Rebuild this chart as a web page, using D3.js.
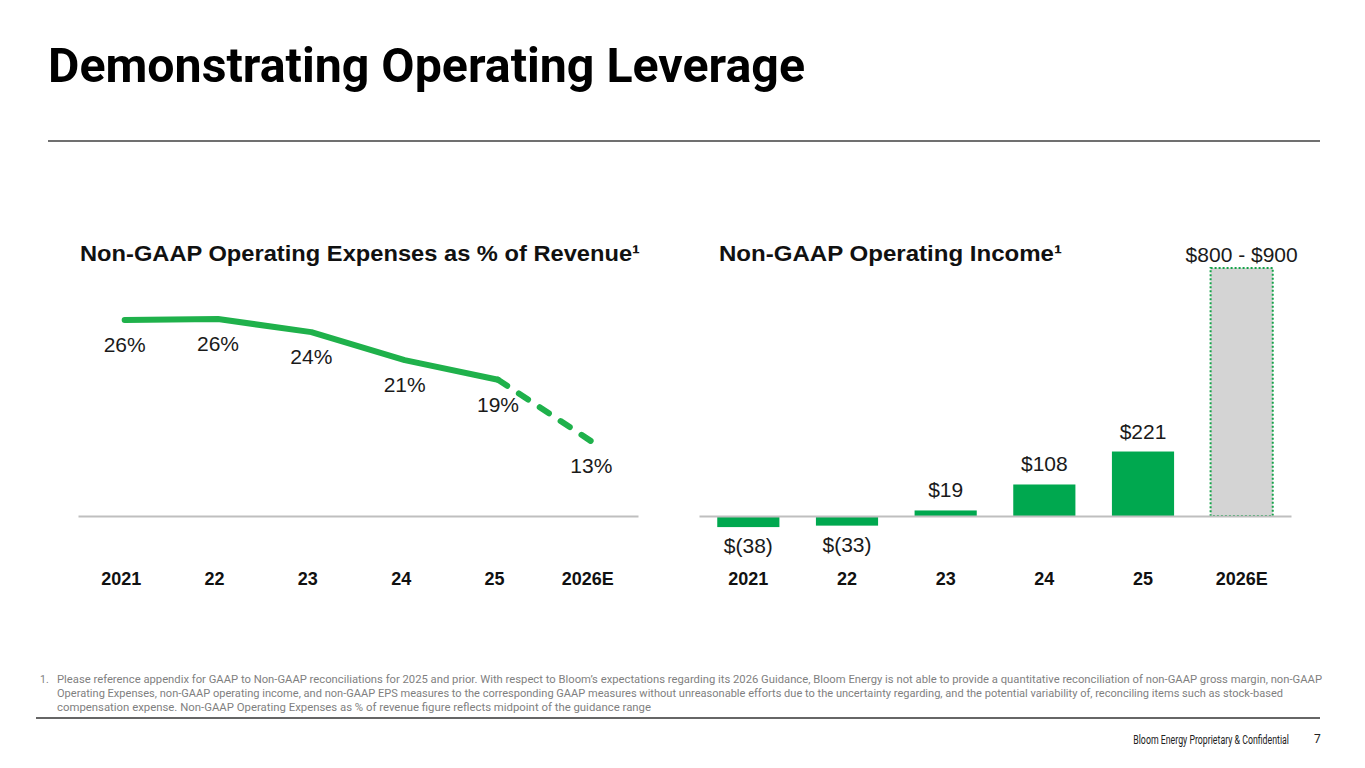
<!DOCTYPE html>
<html>
<head>
<meta charset="utf-8">
<script src="https://cdn.jsdelivr.net/npm/d3@7"></script>
<style>
  body { margin: 0; background: #fff; }
  svg { display: block; }
</style>
</head>
<body>
<div id="slide"></div>
<script>
// chart data
var years = ["2021", "22", "23", "24", "25", "2026E"];
var opexPct = [26.0, 26.1, 24.7, 21.7, 19.6, 13.0];
var opexLabels = ["26%", "26%", "24%", "21%", "19%", "13%"];
var opIncome = [-38, -33, 19, 108, 221, 850];
var opIncomeLabels = ["$(38)", "$(33)", "$19", "$108", "$221", "$800 - $900"];

var footnoteLines = [
    "Please reference appendix for GAAP to Non-GAAP reconciliations for 2025 and prior. With respect to Bloom\u2019s expectations regarding its 2026 Guidance, Bloom Energy is not able to provide a quantitative reconciliation of non-GAAP gross margin, non-GAAP",
    "Operating Expenses, non-GAAP operating income, and non-GAAP EPS measures to the corresponding GAAP measures without unreasonable efforts due to the uncertainty regarding, and the potential variability of, reconciling items such as stock-based",
    "compensation expense. Non-GAAP Operating Expenses as % of revenue figure reflects  midpoint of the guidance range"
];

var W = 1365, H = 768;
var green = "#1fb14b", barGreen = "#00a84f", axisGrey = "#bfbfbf";
var labelFont = "'Liberation Sans', Arial, sans-serif";
var slideFont = "Roboto, 'Liberation Sans', sans-serif";

var svg = d3.select("#slide")
    .append("svg")
    .attr("width", W)
    .attr("height", H);

// slide title + rules
svg.append("text")
    .attr("x", 48)
    .attr("y", 82)
    .attr("font-family", slideFont)
    .attr("font-weight", 700)
    .attr("font-size", 49)
    .attr("textLength", 757)
    .attr("lengthAdjust", "spacingAndGlyphs")
    .attr("fill", "#000")
    .text("Demonstrating Operating Leverage");

svg.append("line")
    .attr("x1", 48).attr("x2", 1320)
    .attr("y1", 141).attr("y2", 141)
    .attr("stroke", "#404040")
    .attr("stroke-width", 1.3);

// ---------- left: opex as % of revenue ----------
var left = svg.append("g");

left.append("text")
    .attr("x", 80)
    .attr("y", 261)
    .attr("font-family", labelFont)
    .attr("font-weight", 700)
    .attr("font-size", 22.5)
    .attr("textLength", 560)
    .attr("lengthAdjust", "spacingAndGlyphs")
    .attr("fill", "#111")
    .text("Non-GAAP Operating Expenses as % of Revenue\u00b9");

var xLine = d3.scalePoint()
    .domain(years)
    .range([78, 638])
    .padding(0.5);

var yLine = d3.scaleLinear()
    .domain([5, 26])
    .range([516, 320]);

var xAxisLeft = d3.axisBottom(xLine)
    .tickSize(0)
    .tickSizeOuter(0)
    .tickPadding(56);

var gxl = left.append("g")
    .attr("transform", "translate(0," + yLine(5) + ")")
    .call(xAxisLeft);
gxl.select(".domain")
    .attr("stroke", axisGrey)
    .attr("stroke-width", 2);
gxl.selectAll("text")
    .attr("transform", "translate(-4,0)")
    .attr("font-family", labelFont)
    .attr("font-weight", 700)
    .attr("font-size", 18)
    .attr("fill", "#111");

var linePts = years.map(function (d, i) {
    return [xLine(d), yLine(opexPct[i])];
});
var lineGen = d3.line();

// actuals solid, guidance dashed
left.append("path")
    .attr("d", lineGen(linePts.slice(0, 5)))
    .attr("fill", "none")
    .attr("stroke", green)
    .attr("stroke-width", 6)
    .attr("stroke-linejoin", "round")
    .attr("stroke-linecap", "round");

left.append("path")
    .attr("d", lineGen(linePts.slice(4)))
    .attr("fill", "none")
    .attr("stroke", green)
    .attr("stroke-width", 6)
    .attr("stroke-linecap", "round")
    .attr("stroke-dasharray", "11,14");

left.selectAll(".pctlabel")
    .data(opexLabels)
    .enter()
    .append("text")
    .attr("class", "pctlabel")
    .attr("x", function (d, i) { return xLine(years[i]); })
    .attr("y", function (d, i) { return yLine(opexPct[i]) + 32; })
    .attr("text-anchor", "middle")
    .attr("font-family", labelFont)
    .attr("font-size", 21)
    .attr("fill", "#1a1a1a")
    .text(function (d) { return d; });

// ---------- right: operating income bars ----------
var right = svg.append("g");

right.append("text")
    .attr("x", 719)
    .attr("y", 261)
    .attr("font-family", labelFont)
    .attr("font-weight", 700)
    .attr("font-size", 22.5)
    .attr("textLength", 343)
    .attr("lengthAdjust", "spacingAndGlyphs")
    .attr("fill", "#111")
    .text("Non-GAAP Operating Income\u00b9");

var xBar = d3.scaleBand()
    .domain(years)
    .range([699, 1291])
    .paddingInner(0.37)
    .paddingOuter(0.185);

var yBar = d3.scaleLinear()
    .domain([0, 850])
    .range([516, 268]);

var last = years.length - 1;

right.selectAll(".bar")
    .data(opIncome)
    .enter()
    .append("rect")
    .attr("class", "bar")
    .attr("x", function (d, i) { return xBar(years[i]); })
    .attr("y", function (d) { return d >= 0 ? yBar(d) : yBar(0); })
    .attr("width", xBar.bandwidth())
    .attr("height", function (d) { return Math.abs(yBar(d) - yBar(0)); })
    .attr("fill", function (d, i) { return i === last ? "#d4d4d4" : barGreen; })
    .attr("stroke", function (d, i) { return i === last ? "#16a34a" : "none"; })
    .attr("stroke-width", 2)
    .attr("stroke-dasharray", "2,2");

var xAxisRight = d3.axisBottom(xBar)
    .tickSize(0)
    .tickSizeOuter(0)
    .tickPadding(56);

var gxr = right.append("g")
    .attr("transform", "translate(0," + yBar(0) + ")")
    .call(xAxisRight);
gxr.select(".domain")
    .attr("stroke", axisGrey)
    .attr("stroke-width", 2);
gxr.selectAll("text")
    .attr("font-family", labelFont)
    .attr("font-weight", 700)
    .attr("font-size", 18)
    .attr("fill", "#111");

right.selectAll(".vlabel")
    .data(opIncomeLabels)
    .enter()
    .append("text")
    .attr("class", "vlabel")
    .attr("x", function (d, i) { return xBar(years[i]) + xBar.bandwidth() / 2; })
    .attr("y", function (d, i) {
        var v = opIncome[i];
        if (v < 0) return yBar(v) + 26;
        if (i === last) return yBar(v) - 6;
        return yBar(v) - 13;
    })
    .attr("text-anchor", "middle")
    .attr("font-family", labelFont)
    .attr("font-size", 21)
    .attr("fill", "#1a1a1a")
    .text(function (d) { return d; });

// ---------- footnote + footer ----------
svg.append("text")
    .attr("x", 40)
    .attr("y", 683)
    .attr("font-family", slideFont)
    .attr("font-size", 10.5)
    .attr("fill", "#7f7f7f")
    .text("1.");

var noteLengths = [1265, 1226, 594];
svg.selectAll(".note")
    .data(footnoteLines)
    .enter()
    .append("text")
    .attr("class", "note")
    .attr("x", 57)
    .attr("y", function (d, i) { return 683 + i * 14; })
    .attr("font-family", slideFont)
    .attr("font-size", 11)
    .attr("fill", "#7f7f7f")
    .attr("textLength", function (d, i) { return noteLengths[i]; })
    .attr("lengthAdjust", "spacingAndGlyphs")
    .text(function (d) { return d; });

svg.append("line")
    .attr("x1", 36).attr("x2", 1320)
    .attr("y1", 718).attr("y2", 718)
    .attr("stroke", "#333")
    .attr("stroke-width", 1.3);

// footer text is a narrow face in the original: squeeze it with a scale
var footer = svg.append("g");
var footerText = footer.append("text")
    .attr("x", 0)
    .attr("y", 0)
    .attr("text-anchor", "end")
    .attr("font-family", slideFont)
    .attr("font-size", 13)
    .attr("fill", "#222")
    .text("Bloom Energy Proprietary & Confidential");
var fw = footerText.node().getComputedTextLength();
footer.attr("transform", "translate(1289,744) scale(" + (156 / fw) + ",1)");

svg.append("text")
    .attr("x", 1314)
    .attr("y", 743)
    .attr("font-family", slideFont)
    .attr("font-size", 12)
    .attr("fill", "#222")
    .text("7");
</script>
</body>
</html>
